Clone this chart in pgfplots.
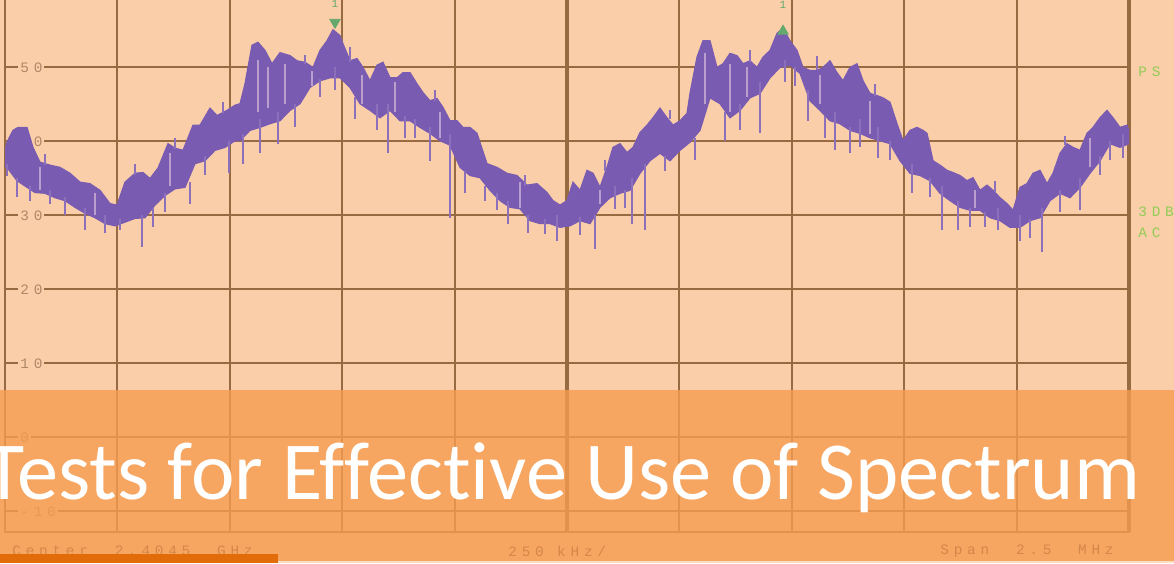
\documentclass[border=0pt]{standalone}
\usepackage{fontspec}
\setmainfont{Carlito}[Ligatures=NoCommon]
\newfontfamily\scr[LetterSpace=33]{Liberation Mono}
\usepackage{pgfplots}
\usepackage{pgfplotstable}
\pgfplotsset{compat=1.18}

\definecolor{peach}{RGB}{250,206,168}
\definecolor{gridc}{RGB}{152,106,66}
\definecolor{tracec}{RGB}{121,92,178}
\definecolor{spkc}{RGB}{140,112,188}
\definecolor{lav}{RGB}{186,158,204}
\definecolor{labc}{RGB}{176,136,102}
\definecolor{mkg}{RGB}{100,168,110}
\definecolor{txg}{RGB}{146,204,86}
\definecolor{bann}{RGB}{246,156,80}
\definecolor{darkbar}{RGB}{227,108,10}
\definecolor{botc}{RGB}{75,52,50}
\definecolor{stripc}{RGB}{250,222,196}

% trace band: upper envelope left to right, then lower envelope right to left
\pgfplotstableread{
x y
0 38.8
2 39.9
8 41.5
13 41.9
22 41.9
28 39.2
35 37.2
45 36.8
55 36.5
65 35.7
75 34.5
85 34.3
95 33.4
105 31.6
112 31.4
120 34.5
130 35.7
138 35.8
145 35.0
153 36.4
163 39.7
170 39.1
178 38.8
188 42.2
195 42.2
205 44.5
212 43.5
222 44.2
230 44.9
235 45.1
240 47.8
247 53.0
253 53.4
260 52.3
267 50.5
275 52.0
285 51.6
292 50.9
300 50.7
308 50.0
315 52.3
322 53.6
328 55.1
335 54.3
338 53.2
345 50.9
352 51.2
358 50.0
365 48.2
372 50.3
378 50.7
385 48.6
392 48.6
398 49.3
405 49.3
412 47.8
418 46.6
425 45.5
432 45.8
438 44.6
445 42.8
452 42.8
458 41.9
465 41.9
472 41.1
482 37.0
492 36.5
502 35.7
512 35.4
522 34.1
532 34.3
542 33.1
548 32.0
555 31.4
562 32.0
568 34.5
575 33.4
582 36.1
588 35.7
595 33.8
602 36.5
608 39.2
615 39.7
622 38.5
628 39.2
635 41.2
642 42.2
648 43.2
655 44.5
662 43.2
668 42.2
675 42.8
682 43.8
685 46.5
692 51.4
698 53.6
705 53.6
712 50.0
718 50.5
725 51.9
732 51.6
738 50.5
745 50.9
752 50.0
758 51.4
765 52.3
772 54.6
778 55.3
785 53.6
792 52.3
798 50.0
805 49.6
812 49.6
818 50.0
825 50.9
832 49.3
838 48.2
845 50.0
852 50.5
858 48.2
865 46.5
872 46.2
878 45.9
885 45.3
892 42.4
898 40.1
905 41.5
912 41.9
918 41.5
922 41.1
928 37.4
935 36.8
942 36.1
948 35.8
955 35.4
962 34.7
968 35.1
975 33.4
982 34.1
988 33.4
995 32.4
1002 31.6
1008 30.7
1015 33.8
1022 34.3
1028 35.7
1035 36.1
1042 34.3
1048 35.7
1055 38.4
1062 39.7
1068 39.2
1075 38.8
1082 41.1
1088 41.9
1095 43.2
1102 44.2
1108 43.2
1115 41.9
1122 42.2
1124 41.5
1124 39.7
1115 39.2
1105 39.7
1095 37.4
1085 35.7
1075 33.8
1065 32.4
1055 33.0
1045 32.0
1035 29.7
1025 29.3
1015 28.4
1005 28.4
995 29.3
985 29.7
975 30.7
965 30.7
955 31.1
945 32.0
935 33.0
925 34.7
915 35.4
905 35.7
895 37.4
885 39.7
875 40.1
865 40.5
855 41.1
845 41.5
835 42.4
825 42.8
815 44.2
805 45.5
795 49.2
785 50.3
775 50.0
765 48.6
755 46.5
745 45.9
735 44.2
725 43.2
715 45.1
705 45.9
695 41.5
685 39.9
675 38.8
665 37.4
655 38.4
645 37.4
635 35.7
625 33.4
615 33.0
605 32.4
595 31.1
585 28.9
575 29.3
565 28.6
555 28.4
545 28.9
535 28.9
525 29.3
515 30.9
505 31.1
495 32.0
485 33.4
475 35.1
465 35.4
455 36.5
445 39.5
435 40.1
425 41.1
415 41.9
405 42.8
395 42.8
385 44.2
375 43.2
365 44.2
355 45.1
345 47.3
335 48.6
325 48.6
315 48.2
305 47.3
295 45.1
285 44.2
275 42.8
265 42.4
255 41.9
245 41.5
235 40.1
230 40.1
220 39.2
210 38.8
200 37.4
190 37.0
180 33.8
170 33.6
160 32.7
150 31.4
140 29.7
130 29.6
120 29.1
110 28.6
100 28.9
90 29.7
80 30.3
70 31.1
60 32.0
50 32.4
40 33.0
30 33.1
22 33.8
12 34.7
2 36.5
0 36.5
}\tband

% downward spikes: x, start level, depth
\pgfplotstableread{
x y e
2 37 1.6
12 35 2.5
25 34 2.0
45 33.5 2.0
60 32.5 2.5
80 31 3.0
100 30 2.4
115 29.5 1.5
137 30 4.3
148 31 2.6
160 33 2.5
185 34.5 3.0
200 38 2.5
224 40 4.3
238 41 4.0
255 43 4.6
273 44 4.3
290 45 3.0
315 48.5 2.5
330 50 3.1
350 46 3.0
372 45 3.5
383 45 6.6
400 43.5 3.0
410 43 2.5
425 42 4.6
445 41 11.3
460 36 3.0
480 34 2.0
492 33 2.3
503 32 3.1
523 30 2.4
540 29.5 2.0
552 30 3.4
575 29.8 2.5
590 30 4.5
610 34 3.1
620 33.5 2.5
627 35 6.1
640 37 9.0
660 38 2.0
690 40.5 3.0
720 44 4.0
735 45 3.5
755 48 6.9
780 51 3.0
790 50 2.5
803 47 4.2
820 43.5 3.0
830 44 5.2
845 42 3.5
855 43 3.8
873 42 4.2
885 40 2.5
907 37 4.0
925 35 2.5
937 34 6.0
953 32 4.0
965 31 2.5
980 30.5 2.0
993 31 3.0
1015 30 3.4
1025 29.5 2.5
1037 31 6.0
1055 33.5 3.0
1075 35 4.3
1095 38 2.5
1105 40 2.5
1118 41 3.2
}\tspikes

% upward spikes above the band: x, start level, height
\pgfplotstableread{
x y e
40 36.8 1.5
130 35.5 1.5
170 39 1.5
218 43.8 1.5
300 50.5 1.2
345 50.8 2.0
430 45.5 1.5
520 34 1.5
600 36 1.5
665 43 1.2
745 50.8 1.5
812 49.6 2.0
870 46.2 1.5
990 33.2 1.5
1060 39.5 1.2
}\tupsp

% light stripes inside the band: x, bottom, length
\pgfplotstableread{
x y e
253 44 7
263 44.5 5.5
280 45 5.5
307 47.5 2
357 45 4
390 44 4
435 40.5 3.5
700 45 7
725 44 6.5
742 46 4
815 45 4
865 41 4.5
35 33.5 3
90 30 3
165 34 4.5
515 31 3.5
595 31.5 2
970 31 2.5
1085 36.5 4
}\tstripes

\pgfplotsset{
  scope geom/.style={
    at={(2.5pt,15.4pt)}, anchor=south west, scale only axis,
    width=562pt, height=271.21pt,
    xmin=0, xmax=1124, ymin=-12.8, ymax=60.5,
  }
}

\begin{document}
\begin{tikzpicture}
\fill[peach] (0,0) rectangle (587pt,281.5pt);
\begin{scope}
\clip (0,0) rectangle (587pt,281.5pt);
\begin{axis}[scope geom, clip=false,
  axis line style={gridc, line width=1pt},
  xtick={112.4,224.8,337.2,449.6,562,674.4,786.8,899.2,1011.6},
  xticklabels={},
  ytick={-10,0,10,20,30,40,50,60},
  yticklabels={-10,0,10,20,30,40,50,60},
  grid=major, major grid style={gridc, line width=1pt},
  major tick length=0pt,
  yticklabel style={font=\scr\fontsize{7.2}{8}\selectfont, text=labc, fill=peach,
    inner xsep=1pt, inner ysep=0.8pt, anchor=west, xshift=6.5pt},
]
\draw[gridc, line width=1.8pt] (axis cs:562,-12.8) -- (axis cs:562,60.5);
\draw[gridc, line width=2.2pt] (axis cs:1124,-12.8) -- (axis cs:1124,60.5);
\end{axis}
\begin{axis}[scope geom, axis lines=none, ticks=none]
\addplot[fill=tracec, draw=tracec, line width=0.6pt] table {\tband};
\addplot[draw=none, mark=none, forget plot,
  error bars/.cd, y dir=minus, y explicit, error mark=none,
  error bar style={draw=spkc, line width=1pt}]
  table[x=x, y=y, y error=e] {\tspikes};
\addplot[draw=none, mark=none, forget plot,
  error bars/.cd, y dir=plus, y explicit, error mark=none,
  error bar style={draw=spkc, line width=1pt}]
  table[x=x, y=y, y error=e] {\tupsp};
\addplot[draw=none, mark=none, forget plot,
  error bars/.cd, y dir=plus, y explicit, error mark=none,
  error bar style={draw=lav, line width=0.8pt}]
  table[x=x, y=y, y error=e] {\tstripes};
\addplot[only marks, mark=triangle*, mark size=3pt, color=mkg, mark options={rotate=180}] coordinates {(330,56.1)};
\addplot[only marks, mark=triangle*, mark size=3pt, color=mkg] coordinates {(778,54.9)};
\node[text=mkg, font=\scr\fontsize{5.5}{6}\selectfont, inner sep=0pt] at (axis cs:330,58.6) {1};
\node[text=mkg, font=\scr\fontsize{5.5}{6}\selectfont, inner sep=0pt] at (axis cs:778,58.5) {1};
\end{axis}
% side and bottom texts
\node[anchor=west, text=txg, font=\scr\fontsize{7.2}{8}\selectfont, inner sep=0pt] at (569pt,245.5pt) {PS};
\node[anchor=west, text=txg, font=\scr\fontsize{7.2}{8}\selectfont, inner sep=0pt] at (569pt,175.5pt) {3DB};
\node[anchor=west, text=txg, font=\scr\fontsize{7.2}{8}\selectfont, inner sep=0pt] at (569pt,165pt) {AC};
\node[anchor=west, text=botc, font=\scr\fontsize{7.2}{8}\selectfont, inner sep=0pt] at (6pt,6pt) {Center\ \ 2.4045\ \ GHz};
\node[anchor=west, text=botc, font=\scr\fontsize{7.2}{8}\selectfont, inner sep=0pt] at (254pt,6pt) {250\ kHz/};
\node[anchor=west, text=botc, font=\scr\fontsize{7.2}{8}\selectfont, inner sep=0pt] at (470pt,6pt) {Span\ \ 2.5\ \ MHz};
% banner
\fill[bann, opacity=0.8] (0,1pt) rectangle (587pt,86.5pt);
\fill[stripc] (0,0) rectangle (587pt,1pt);
\fill[darkbar] (0,0) rectangle (139pt,4.5pt);
\node[anchor=base west, text=white, font=\fontsize{41.2}{42}\selectfont, inner sep=0pt] at (-8pt,31.5pt) {Tests for Effective Use of Spectrum};
\end{scope}
\pgfresetboundingbox
\path[use as bounding box] (0,0) rectangle (587pt,281.5pt);
\end{tikzpicture}
\end{document}
